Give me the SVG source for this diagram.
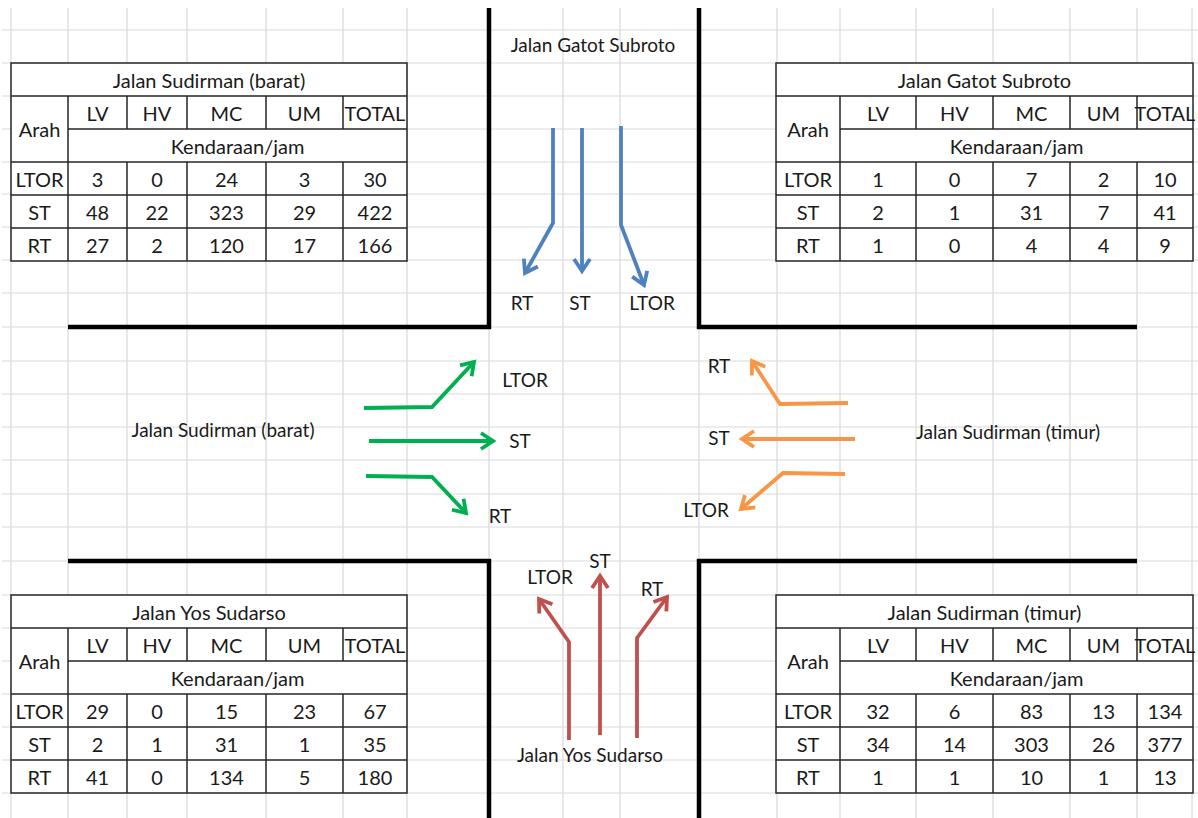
<svg xmlns="http://www.w3.org/2000/svg" xmlns:xlink="http://www.w3.org/1999/xlink" width="1198" height="818" viewBox="0 0 1198 818">
<style>
.grid{stroke:#d9d9d9;stroke-width:1.2;fill:none}
.road{stroke:#000;stroke-width:4.5;fill:none}
.tb{stroke:#262626;stroke-width:1.5;fill:none}
.t{font-family:Lato,"Liberation Sans",sans-serif;font-size:20px;text-anchor:middle;fill:#1a1a1a}
.lbl{font-family:Lato,"Liberation Sans",sans-serif;font-size:19px;text-anchor:middle;fill:#1a1a1a}
.arr{fill:none;stroke-width:3.8;stroke-linejoin:miter}
.blue{stroke:#4f81bd}
.green{stroke:#00b050}
.orange{stroke:#f79646}
.red{stroke:#c0504d}
</style>
<defs>
<marker id="mB" viewBox="0 0 20 20" refX="15" refY="10" markerWidth="20" markerHeight="20" markerUnits="userSpaceOnUse" orient="auto"><path d="M3,2 L15,10 L3,18" fill="none" stroke="#4f81bd" stroke-width="3.8"/></marker>
<marker id="mG" viewBox="0 0 20 20" refX="15" refY="10" markerWidth="20" markerHeight="20" markerUnits="userSpaceOnUse" orient="auto"><path d="M3,2 L15,10 L3,18" fill="none" stroke="#00b050" stroke-width="3.8"/></marker>
<marker id="mO" viewBox="0 0 20 20" refX="15" refY="10" markerWidth="20" markerHeight="20" markerUnits="userSpaceOnUse" orient="auto"><path d="M3,2 L15,10 L3,18" fill="none" stroke="#f79646" stroke-width="3.8"/></marker>
<marker id="mR" viewBox="0 0 20 20" refX="15" refY="10" markerWidth="20" markerHeight="20" markerUnits="userSpaceOnUse" orient="auto"><path d="M3,2 L15,10 L3,18" fill="none" stroke="#c0504d" stroke-width="3.8"/></marker>
<g id="frameL">
<rect x="11" y="0" width="396" height="198" fill="#fff"/>
<path class="tb" d="M11,0 H407 V198 H11 Z M11,33 H407 M68,66 H407 M11,99 H407 M11,132 H407 M11,165 H407 M68,33 V198 M127,33 V66 M187,33 V66 M266,33 V66 M343,33 V66 M127,99 V198 M187,99 V198 M266,99 V198 M343,99 V198"/>
</g>
<g id="frameR">
<rect x="776" y="0" width="417" height="198" fill="#fff"/>
<path class="tb" d="M776,0 H1193 V198 H776 Z M776,33 H1193 M840,66 H1193 M776,99 H1193 M776,132 H1193 M776,165 H1193 M840,33 V198 M916,33 V66 M993,33 V66 M1070,33 V66 M1137,33 V66 M916,99 V198 M993,99 V198 M1070,99 V198 M1137,99 V198"/>
</g>
</defs>
<rect width="1198" height="818" fill="#fff"/>
<g id="grid" class="grid">
<path d="M11,8 V818 M68,8 V818 M127,8 V818 M187,8 V818 M266,8 V818 M343,8 V818 M407,8 V818 M489,8 V818 M563,8 V818 M620,8 V818 M699,8 V818 M777,8 V818 M840,8 V818 M916,8 V818 M993,8 V818 M1070,8 V818 M1137,8 V818 M1192,8 V818"/>
<path d="M2,30 H1198 M2,63 H1198 M2,96 H1198 M2,129 H1198 M2,162 H1198 M2,194 H1198 M2,227 H1198 M2,260 H1198 M2,293 H1198 M2,327 H1198 M2,361 H1198 M2,394 H1198 M2,427 H1198 M2,460 H1198 M2,494 H1198 M2,527 H1198 M2,561 H1198 M2,595 H1198 M2,628 H1198 M2,661 H1198 M2,694 H1198 M2,727 H1198 M2,760 H1198 M2,793 H1198"/>
</g>
<g id="roads" class="road">
<path d="M489,8 V327 H68"/>
<path d="M699,8 V327 H1137"/>
<path d="M68,561 H489 V818"/>
<path d="M1137,561 H699 V818"/>
</g>
<g id="table-sudirman-barat" transform="translate(0,63)">
<use xlink:href="#frameL" href="#frameL"/>
<text class="t" x="209" y="24.5">Jalan Sudirman (barat)</text>
<text class="t" x="39.5" y="74">Arah</text>
<text class="t" x="97.5" y="57.5">LV</text><text class="t" x="157" y="57.5">HV</text><text class="t" x="226.5" y="57.5">MC</text><text class="t" x="304.5" y="57.5">UM</text><text class="t" x="375" y="57.5">TOTAL</text>
<text class="t" x="237.5" y="90.5">Kendaraan/jam</text>
<text class="t" x="39.5" y="123.5">LTOR</text><text class="t" x="97.5" y="123.5">3</text><text class="t" x="157" y="123.5">0</text><text class="t" x="226.5" y="123.5">24</text><text class="t" x="304.5" y="123.5">3</text><text class="t" x="375" y="123.5">30</text>
<text class="t" x="39.5" y="156.5">ST</text><text class="t" x="97.5" y="156.5">48</text><text class="t" x="157" y="156.5">22</text><text class="t" x="226.5" y="156.5">323</text><text class="t" x="304.5" y="156.5">29</text><text class="t" x="375" y="156.5">422</text>
<text class="t" x="39.5" y="189.5">RT</text><text class="t" x="97.5" y="189.5">27</text><text class="t" x="157" y="189.5">2</text><text class="t" x="226.5" y="189.5">120</text><text class="t" x="304.5" y="189.5">17</text><text class="t" x="375" y="189.5">166</text>
</g>
<g id="table-gatot-subroto" transform="translate(0,63)">
<use xlink:href="#frameR" href="#frameR"/>
<text class="t" x="984.5" y="24.5">Jalan Gatot Subroto</text>
<text class="t" x="808" y="74">Arah</text>
<text class="t" x="878" y="57.5">LV</text><text class="t" x="954.5" y="57.5">HV</text><text class="t" x="1031.5" y="57.5">MC</text><text class="t" x="1103.5" y="57.5">UM</text><text class="t" x="1165" y="57.5">TOTAL</text>
<text class="t" x="1016.5" y="90.5">Kendaraan/jam</text>
<text class="t" x="808" y="123.5">LTOR</text><text class="t" x="878" y="123.5">1</text><text class="t" x="954.5" y="123.5">0</text><text class="t" x="1031.5" y="123.5">7</text><text class="t" x="1103.5" y="123.5">2</text><text class="t" x="1165" y="123.5">10</text>
<text class="t" x="808" y="156.5">ST</text><text class="t" x="878" y="156.5">2</text><text class="t" x="954.5" y="156.5">1</text><text class="t" x="1031.5" y="156.5">31</text><text class="t" x="1103.5" y="156.5">7</text><text class="t" x="1165" y="156.5">41</text>
<text class="t" x="808" y="189.5">RT</text><text class="t" x="878" y="189.5">1</text><text class="t" x="954.5" y="189.5">0</text><text class="t" x="1031.5" y="189.5">4</text><text class="t" x="1103.5" y="189.5">4</text><text class="t" x="1165" y="189.5">9</text>
</g>
<g id="table-yos-sudarso" transform="translate(0,595)">
<use xlink:href="#frameL" href="#frameL"/>
<text class="t" x="209" y="24.5">Jalan Yos Sudarso</text>
<text class="t" x="39.5" y="74">Arah</text>
<text class="t" x="97.5" y="57.5">LV</text><text class="t" x="157" y="57.5">HV</text><text class="t" x="226.5" y="57.5">MC</text><text class="t" x="304.5" y="57.5">UM</text><text class="t" x="375" y="57.5">TOTAL</text>
<text class="t" x="237.5" y="90.5">Kendaraan/jam</text>
<text class="t" x="39.5" y="123.5">LTOR</text><text class="t" x="97.5" y="123.5">29</text><text class="t" x="157" y="123.5">0</text><text class="t" x="226.5" y="123.5">15</text><text class="t" x="304.5" y="123.5">23</text><text class="t" x="375" y="123.5">67</text>
<text class="t" x="39.5" y="156.5">ST</text><text class="t" x="97.5" y="156.5">2</text><text class="t" x="157" y="156.5">1</text><text class="t" x="226.5" y="156.5">31</text><text class="t" x="304.5" y="156.5">1</text><text class="t" x="375" y="156.5">35</text>
<text class="t" x="39.5" y="189.5">RT</text><text class="t" x="97.5" y="189.5">41</text><text class="t" x="157" y="189.5">0</text><text class="t" x="226.5" y="189.5">134</text><text class="t" x="304.5" y="189.5">5</text><text class="t" x="375" y="189.5">180</text>
</g>
<g id="table-sudirman-timur" transform="translate(0,595)">
<use xlink:href="#frameR" href="#frameR"/>
<text class="t" x="984.5" y="24.5">Jalan Sudirman (timur)</text>
<text class="t" x="808" y="74">Arah</text>
<text class="t" x="878" y="57.5">LV</text><text class="t" x="954.5" y="57.5">HV</text><text class="t" x="1031.5" y="57.5">MC</text><text class="t" x="1103.5" y="57.5">UM</text><text class="t" x="1165" y="57.5">TOTAL</text>
<text class="t" x="1016.5" y="90.5">Kendaraan/jam</text>
<text class="t" x="808" y="123.5">LTOR</text><text class="t" x="878" y="123.5">32</text><text class="t" x="954.5" y="123.5">6</text><text class="t" x="1031.5" y="123.5">83</text><text class="t" x="1103.5" y="123.5">13</text><text class="t" x="1165" y="123.5">134</text>
<text class="t" x="808" y="156.5">ST</text><text class="t" x="878" y="156.5">34</text><text class="t" x="954.5" y="156.5">14</text><text class="t" x="1031.5" y="156.5">303</text><text class="t" x="1103.5" y="156.5">26</text><text class="t" x="1165" y="156.5">377</text>
<text class="t" x="808" y="189.5">RT</text><text class="t" x="878" y="189.5">1</text><text class="t" x="954.5" y="189.5">1</text><text class="t" x="1031.5" y="189.5">10</text><text class="t" x="1103.5" y="189.5">1</text><text class="t" x="1165" y="189.5">13</text>
</g>
<g id="road-labels">
<text id="label-gatot" class="lbl" x="593" y="52">Jalan Gatot Subroto</text>
<text id="label-barat" class="lbl" x="223" y="437">Jalan Sudirman (barat)</text>
<text id="label-timur" class="lbl" x="1008" y="439">Jalan Sudirman (timur)</text>
<text id="label-yos" class="lbl" x="590" y="762">Jalan Yos Sudarso</text>
</g>
<g id="connectors">
<path class="arr blue" d="M553,128 L553,223 L525,273" marker-end="url(#mB)"/>
<path class="arr blue" d="M582,128 L582,271" marker-end="url(#mB)"/>
<path class="arr blue" d="M621,126 L621,225 L644,285" marker-end="url(#mB)"/>
<path class="arr green" d="M364,408 L432,407 L474,362" marker-end="url(#mG)"/>
<path class="arr green" d="M369,441 L493,441" marker-end="url(#mG)"/>
<path class="arr green" d="M366,476 L432,477 L466,513" marker-end="url(#mG)"/>
<path class="arr orange" d="M848,403 L780,404 L752,361" marker-end="url(#mO)"/>
<path class="arr orange" d="M855,439 L742,439" marker-end="url(#mO)"/>
<path class="arr orange" d="M845,474 L783,473 L741,509" marker-end="url(#mO)"/>
<path class="arr red" d="M569,740 L569,642 L539,599" marker-end="url(#mR)"/>
<path class="arr red" d="M600,735 L600,576" marker-end="url(#mR)"/>
<path class="arr red" d="M637,738 L637,638 L667,597" marker-end="url(#mR)"/>
</g>
<g id="arrow-labels">
<text class="lbl" x="522" y="310">RT</text>
<text class="lbl" x="580" y="310">ST</text>
<text class="lbl" x="652" y="310">LTOR</text>
<text class="lbl" x="525" y="387">LTOR</text>
<text class="lbl" x="520" y="448">ST</text>
<text class="lbl" x="500" y="523">RT</text>
<text class="lbl" x="719" y="373">RT</text>
<text class="lbl" x="719" y="445">ST</text>
<text class="lbl" x="706" y="517">LTOR</text>
<text class="lbl" x="550" y="584">LTOR</text>
<text class="lbl" x="600" y="568">ST</text>
<text class="lbl" x="652" y="596">RT</text>
</g>
</svg>
